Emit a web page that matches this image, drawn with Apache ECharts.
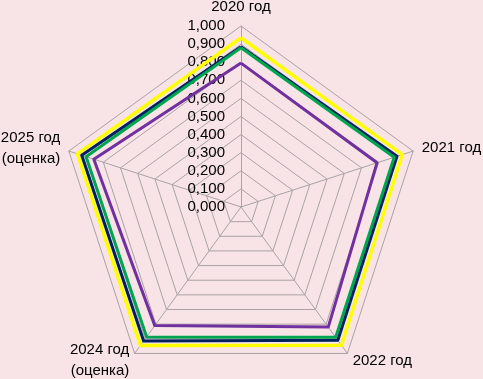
<!DOCTYPE html>
<html>
<head>
<meta charset="utf-8">
<script src="https://cdn.jsdelivr.net/npm/echarts@6/dist/echarts.min.js"></script>
<style>
  html, body { margin: 0; padding: 0; background: #f8e4e6; }
  #chart { width: 483px; height: 379px; }
</style>
</head>
<body>
<div id="chart"></div>
<script>
// categories, clockwise from the top as in the source
const years = ['2020 год', '2021 год', '2022 год', '2024 год\n(оценка)', '2025 год\n(оценка)'];

const yellowVals = [0.935, 0.937, 0.944, 0.945, 0.950];
const navyVals   = [0.885, 0.906, 0.910, 0.915, 0.925];
const greenVals  = [0.880, 0.890, 0.890, 0.887, 0.900];
const purpleVals = [0.795, 0.790, 0.820, 0.810, 0.855];

const tickValues = [0, 0.1, 0.2, 0.3, 0.4, 0.5, 0.6, 0.7, 0.8, 0.9, 1.0];

// echarts lays radar indicators out counter-clockwise, so flip the order after the first
const order = [0, 4, 3, 2, 1];
const pick = arr => order.map(i => arr[i]);

const FONT = '"Liberation Sans", Arial, sans-serif';
const GRID_COLOR = '#aaa2a5';

const chart = echarts.init(document.getElementById('chart'), null, { renderer: 'canvas' });

chart.setOption({
    backgroundColor: '#f8e4e6',
    animation: false,
    radar: {
        center: [241, 207],
        radius: 181,
        startAngle: 90,
        shape: 'polygon',
        splitNumber: 10,
        nameGap: 9,
        indicator: pick(years).map(name => ({ name, min: 0, max: 1 })),
        axisName: {
            color: '#000',
            fontFamily: FONT,
            fontSize: 15,
            lineHeight: 21
        },
        axisLine: { lineStyle: { color: GRID_COLOR, width: 1 } },
        splitLine: { lineStyle: { color: GRID_COLOR, width: 1 } },
        splitArea: { show: false },
        axisTick: { show: false },
        axisLabel: { show: false }
    },
    // invisible value axis along the vertical spoke, only for the tick labels
    grid: { left: 241, top: 26, width: 1, height: 181 },
    xAxis: { type: 'value', show: false },
    yAxis: {
        type: 'value',
        min: tickValues[0],
        max: tickValues[tickValues.length - 1],
        interval: 0.1,
        axisLine: { show: false },
        axisTick: { show: false },
        splitLine: { show: false },
        axisLabel: {
            margin: 16,
            color: '#000',
            fontFamily: FONT,
            fontSize: 15,
            formatter: v => v.toFixed(3).replace('.', ',')
        }
    },
    series: [{
        type: 'radar',
        symbol: 'none',
        data: [
            { value: pick(yellowVals), lineStyle: { color: '#ffff00', width: 3.5 } },
            { value: pick(navyVals),   lineStyle: { color: '#002060', width: 3 } },
            { value: pick(greenVals),  lineStyle: { color: '#00a550', width: 3 } },
            { value: pick(purpleVals), lineStyle: { color: '#7030a0', width: 3 } }
        ]
    }]
});
</script>
</body>
</html>
